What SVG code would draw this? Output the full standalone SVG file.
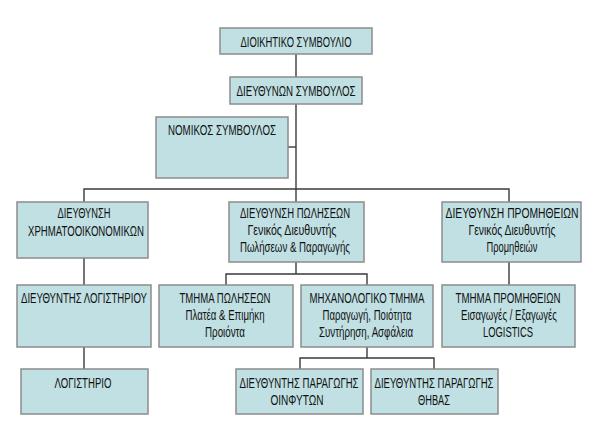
<svg xmlns="http://www.w3.org/2000/svg" width="600" height="433" viewBox="0 0 600 433">
<style>
.box{fill:#c0e0e3;stroke:#8c8c8c;stroke-width:1.5}
text{font-family:"Liberation Sans",Arial,sans-serif;font-size:14px;fill:#111;text-anchor:middle}
.conn{fill:none;stroke:#3a3a3a;stroke-width:1.4}
</style>
<rect width="600" height="433" fill="#ffffff"/>
<g id="connectors" class="conn">
<path d="M296 54V202"/>
<path d="M288 147H296"/>
<path d="M84 202V189H509V202"/>
<path d="M84 258V285"/>
<path d="M84 347V369"/>
<path d="M296 262V274"/>
<path d="M226 285V274H367V285"/>
<path d="M509 262V285"/>
<path d="M367 347V358"/>
<path d="M300 369V358H434V369"/>
</g>
<g id="n1"><rect class="box" x="220" y="28" width="152" height="26"/><text x="296" y="47" textLength="111" lengthAdjust="spacingAndGlyphs">ΔΙΟΙΚΗΤΙΚΟ ΣΥΜΒΟΥΛΙΟ</text></g>
<g id="n2"><rect class="box" x="230" y="77" width="132" height="27"/><text x="296" y="96" textLength="119" lengthAdjust="spacingAndGlyphs">ΔΙΕΥΘΥΝΩΝ ΣΥΜΒΟΥΛΟΣ</text></g>
<g id="n3"><rect class="box" x="156" y="117" width="132" height="61"/><text x="222" y="135" textLength="108" lengthAdjust="spacingAndGlyphs">ΝΟΜΙΚΟΣ ΣΥΜΒΟΥΛΟΣ</text></g>
<g id="n4"><rect class="box" x="17" y="202" width="131" height="56"/><text x="84" y="218" textLength="53" lengthAdjust="spacingAndGlyphs">ΔΙΕΥΘΥΝΣΗ</text><text x="86" y="236" textLength="116" lengthAdjust="spacingAndGlyphs">ΧΡΗΜΑΤΟΟΙΚΟΝΟΜΙΚΩΝ</text></g>
<g id="n5"><rect class="box" x="229" y="202" width="135" height="60"/><text x="295" y="218" textLength="110" lengthAdjust="spacingAndGlyphs">ΔΙΕΥΘΥΝΣΗ ΠΩΛΗΣΕΩΝ</text><text x="292" y="235" textLength="89" lengthAdjust="spacingAndGlyphs">Γενικός Διευθυντής</text><text x="295" y="252" textLength="110" lengthAdjust="spacingAndGlyphs">Πωλήσεων &amp; Παραγωγής</text></g>
<g id="n6"><rect class="box" x="442" y="202" width="139" height="60"/><text x="512" y="218" textLength="133" lengthAdjust="spacingAndGlyphs">ΔΙΕΥΘΥΝΣΗ ΠΡΟΜΗΘΕΙΩΝ</text><text x="512" y="235" textLength="87" lengthAdjust="spacingAndGlyphs">Γενικός Διευθυντής</text><text x="512" y="252" textLength="51" lengthAdjust="spacingAndGlyphs">Προμηθειών</text></g>
<g id="n7"><rect class="box" x="17" y="285" width="134" height="62"/><text x="84" y="303" textLength="126" lengthAdjust="spacingAndGlyphs">ΔΙΕΥΘΥΝΤΗΣ ΛΟΓΙΣΤΗΡΙΟΥ</text></g>
<g id="n8"><rect class="box" x="159" y="285" width="134" height="62"/><text x="225" y="303" textLength="91" lengthAdjust="spacingAndGlyphs">ΤΜΗΜΑ ΠΩΛΗΣΕΩΝ</text><text x="225" y="320" textLength="79" lengthAdjust="spacingAndGlyphs">Πλατέα &amp; Επιμήκη</text><text x="225" y="337" textLength="40" lengthAdjust="spacingAndGlyphs">Προιόντα</text></g>
<g id="n9"><rect class="box" x="301" y="285" width="132" height="62"/><text x="367" y="303" textLength="115" lengthAdjust="spacingAndGlyphs">ΜΗΧΑΝΟΛΟΓΙΚΟ ΤΜΗΜΑ</text><text x="367" y="320" textLength="89" lengthAdjust="spacingAndGlyphs">Παραγωγή, Ποιότητα</text><text x="366" y="337" textLength="94" lengthAdjust="spacingAndGlyphs">Συντήρηση, Ασφάλεια</text></g>
<g id="n10"><rect class="box" x="442" y="285" width="133" height="62"/><text x="508" y="303" textLength="105" lengthAdjust="spacingAndGlyphs">ΤΜΗΜΑ ΠΡΟΜΗΘΕΙΩΝ</text><text x="509" y="320" textLength="96" lengthAdjust="spacingAndGlyphs">Εισαγωγές / Εξαγωγές</text><text x="508" y="337" textLength="50" lengthAdjust="spacingAndGlyphs">LOGISTICS</text></g>
<g id="n11"><rect class="box" x="21" y="369" width="127" height="45"/><text x="83" y="388" textLength="57" lengthAdjust="spacingAndGlyphs">ΛΟΓΙΣΤΗΡΙΟ</text></g>
<g id="n12"><rect class="box" x="236" y="369" width="127" height="45"/><text x="299" y="388" textLength="119" lengthAdjust="spacingAndGlyphs">ΔΙΕΥΘΥΝΤΗΣ ΠΑΡΑΓΩΓΗΣ</text><text x="297" y="405" textLength="53" lengthAdjust="spacingAndGlyphs">ΟΙΝΦΥΤΩΝ</text></g>
<g id="n13"><rect class="box" x="371" y="369" width="127" height="45"/><text x="434" y="388" textLength="119" lengthAdjust="spacingAndGlyphs">ΔΙΕΥΘΥΝΤΗΣ ΠΑΡΑΓΩΓΗΣ</text><text x="434" y="405" textLength="32" lengthAdjust="spacingAndGlyphs">ΘΗΒΑΣ</text></g>
</svg>
